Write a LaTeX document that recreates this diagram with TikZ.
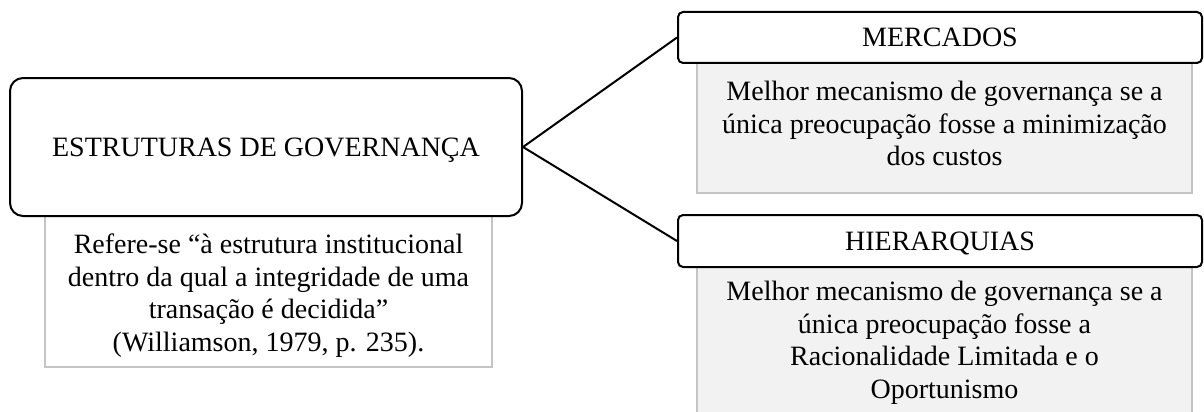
\documentclass[tikz,border=0pt]{standalone}
\usepackage{fontspec}
\setmainfont{Liberation Serif}
\definecolor{boxgray}{HTML}{C4C4C4}
\definecolor{notefill}{HTML}{F2F2F2}
\begin{document}
\begin{tikzpicture}[x=1pt,y=-1pt,
  txt/.style={font=\fontsize{28}{32.5}\selectfont},
  bodytext/.style={txt, align=center, inner sep=0pt, anchor=north},
  notebox/.style={draw=boxgray, line width=1.5pt, inner sep=0pt},
  mainbox/.style={txt, draw=black, fill=white, line width=2pt, rounded corners=13pt,
    inner sep=0pt, text height=19pt, text depth=1pt},
  headbox/.style={txt, draw=black, fill=white, line width=2pt, rounded corners=5pt,
    inner sep=0pt, text height=18.6pt, text depth=0pt},
  link/.style={draw=black, line width=2pt}
]
\useasboundingbox (0,0) rectangle (1204,412);
\clip (0,0) rectangle (1204,412);

% description boxes underneath the headings
\node[notebox, fill=white, minimum width=447pt, minimum height=151pt] (defbox) at (268.5,291.5) {};
\node[notebox, fill=notefill, minimum width=495pt, minimum height=130pt] (mktbox) at (944.5,128) {};
\node[notebox, fill=notefill, minimum width=495pt, minimum height=153pt] (hierbox) at (944.5,343.5) {};

% headings
\node[mainbox, minimum width=512pt, minimum height=138pt] (gov) at (266,147) {ESTRUTURAS DE GOVERNANÇA};
\node[headbox, minimum width=524pt, minimum height=51pt] (mkt) at (940,37.5) {MERCADOS};
\node[headbox, minimum width=524pt, minimum height=52pt] (hier) at (940,241) {HIERARQUIAS};

% texts of the description boxes
\node[bodytext] (deftext) at (268.5,234)
  {Refere-se “à estrutura institucional\\dentro da qual a integridade de uma\\transação é decidida”\\(Williamson, 1979, p. 235).};
\node[bodytext] (mkttext) at (944.5,81)
  {Melhor mecanismo de governança se a\\única preocupação fosse a minimização\\dos custos};
\node[bodytext] (hiertext) at (944.5,281)
  {Melhor mecanismo de governança se a\\única preocupação fosse a\\Racionalidade Limitada e o\\Oportunismo};

% connectors
\draw[link] (gov.east) -- (mkt.west);
\draw[link] (gov.east) -- (hier.west);
\end{tikzpicture}
\end{document}
